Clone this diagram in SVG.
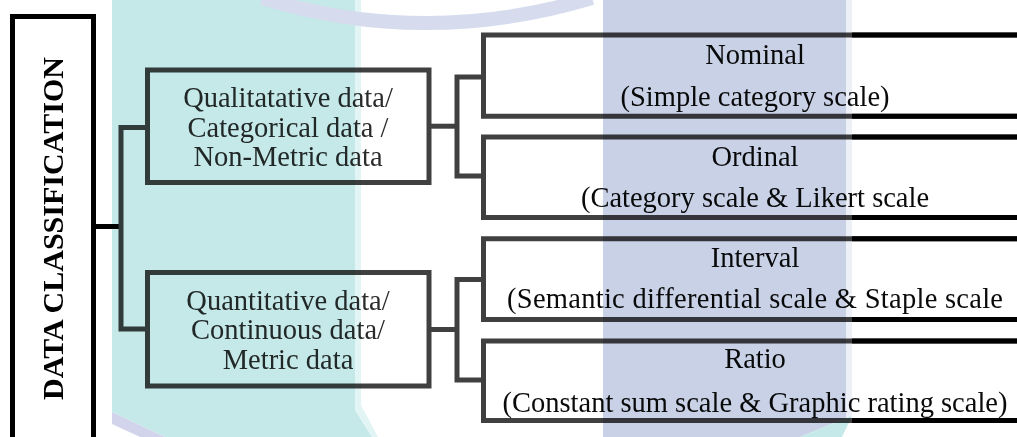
<svg xmlns="http://www.w3.org/2000/svg" width="1017" height="437" viewBox="0 0 1017 437">
<style>
.t{font-family:"Liberation Serif","Times New Roman",serif;font-size:28.5px;text-anchor:middle}
.lt{fill:#2b2b2b}
.rt{fill:#0a0a0a}
.box{fill:none;stroke:#404040;stroke-width:5}
.blk{fill:none;stroke:#000;stroke-width:5}
.wm{mix-blend-mode:multiply}
</style>
<rect width="1017" height="437" fill="#fff"/>
<g id="data-classification">
<rect x="12.5" y="16.5" width="81" height="440" class="blk"/>
<text transform="translate(63,228.5) rotate(-90)" font-family="Liberation Serif, Times New Roman, serif" font-weight="bold" font-size="30" text-anchor="middle" fill="#000" textLength="343" lengthAdjust="spacing">DATA CLASSIFICATION</text>
</g>
<g id="qualitative">
<rect x="147.5" y="70" width="281.5" height="112.5" class="box"/>
<text class="t lt"><tspan x="288" y="107">Qualitatative data/</tspan><tspan x="288" y="136.5">Categorical data /</tspan><tspan x="288" y="165.5">Non-Metric data</tspan></text>
</g>
<g id="quantitative">
<rect x="147.5" y="272.5" width="281.5" height="113.5" class="box"/>
<text class="t lt"><tspan x="288" y="309.5">Quantitative data/</tspan><tspan x="288" y="339">Continuous data/</tspan><tspan x="288" y="368.5">Metric data</tspan></text>
</g>
<g id="nominal">
<path class="box" d="M1020 35H483.5V116.3H1020"/>
<path class="blk" d="M852 35H1020M852 116.3H1020"/>
<text class="t rt"><tspan x="755" y="64">Nominal</tspan><tspan x="755" y="106">(Simple category scale)</tspan></text>
</g>
<g id="ordinal">
<path class="box" d="M1020 137H483.5V217.5H1020"/>
<path class="blk" d="M852 137H1020M852 217.5H1020"/>
<text class="t rt"><tspan x="755" y="166">Ordinal</tspan><tspan x="755" y="206.5">(Category scale &amp; Likert scale</tspan></text>
</g>
<g id="interval">
<path class="box" d="M1020 238.7H483.5V319.5H1020"/>
<path class="blk" d="M852 238.7H1020M852 319.5H1020"/>
<text class="t rt"><tspan x="755" y="266.5">Interval</tspan><tspan x="755" y="308" textLength="496" lengthAdjust="spacing">(Semantic differential scale &amp; Staple scale</tspan></text>
</g>
<g id="ratio">
<path class="box" d="M1020 341H483.5V420.5H1020"/>
<path class="blk" d="M852 341H1020M852 420.5H1020"/>
<text class="t rt"><tspan x="755" y="368">Ratio</tspan><tspan x="755" y="411.5">(Constant sum scale &amp; Graphic rating scale)</tspan></text>
</g>
<g id="connectors">
<path class="blk" d="M96 226.5H121"/>
<path class="box" d="M147.5 127.5H121V329H147.5"/>
<path class="box" d="M431 126.2H457"/>
<path class="box" d="M483.5 77H457V176H483.5"/>
<path class="box" d="M431 329.5H457"/>
<path class="box" d="M483.5 279.5H457V380H483.5"/>
</g>
<g id="watermark" class="wm">
<polygon points="112,0 355,0 355,410 372,437 165,437 112,412" fill="#c4e9e8"/>
<polygon points="355,0 361,0 361,405 378,437 372,437 355,410" fill="#e2f4f4"/>
<polygon points="112,412 165,437 140,437 112,424" fill="#d2d4ec"/>
<polygon points="603,0 846,0 846,418 800,437 603,437" fill="#c9d1e6"/>
<polygon points="846,0 852,0 852,416 846,418" fill="#eef0f7"/>
<polygon points="800,437 846,418 852,416 842,437" fill="#c4e9e8"/>
<path d="M262 -2 Q 425 48 592 -2" fill="none" stroke="#d6dcee" stroke-width="14"/>
</g>
</svg>
